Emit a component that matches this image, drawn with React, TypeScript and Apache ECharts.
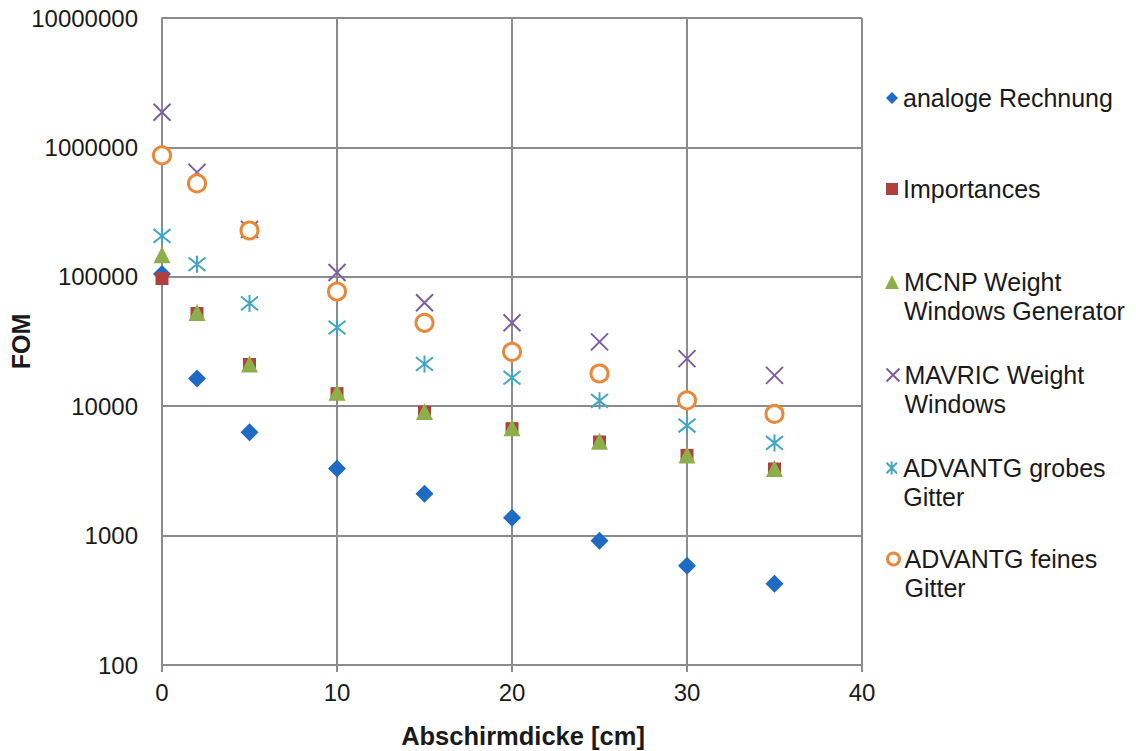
import React, { useEffect, useRef } from "react";
import * as echarts from "echarts";

const xValues = [0, 2, 5, 10, 15, 20, 25, 30, 35];
const analog = [105000, 16400, 6300, 3300, 2110, 1375, 912, 585, 425];
const importances = [97000, 52000, 21000, 12500, 8980, 6710, 5290, 4170, 3270];
const mcnp = [148000, 53000, 21200, 12800, 9100, 6800, 5350, 4200, 3300];
const mavric = [1870000, 641000, 232000, 108000, 63000, 44100, 31400, 23300, 17300];
const grob = [207000, 125000, 62300, 40600, 21200, 16600, 11000, 7080, 5200];
const fein = [867000, 527000, 228000, 76900, 44100, 26300, 17900, 11100, 8710];
const yTicks = [100, 1000, 10000, 100000, 1000000, 10000000];

const names = [
  "analoge Rechnung",
  "Importances",
  "MCNP Weight\nWindows Generator",
  "MAVRIC Weight\nWindows",
  "ADVANTG grobes\nGitter",
  "ADVANTG feines\nGitter",
];

const X_PATH = "path://M0,0L10,10M10,0L0,10";
const STAR_PATH = "path://M5,0L5,10M1,1L9,9M9,1L1,9";

const pair = (ys: number[]) => xValues.map((x, i) => [x, ys[i]]);

export default function App() {
  const ref = useRef<HTMLDivElement>(null);
  useEffect(() => {
    document.body.style.margin = "0";
    const chart = echarts.init(ref.current!, null, { renderer: "svg" });
    const font = "'Liberation Sans', Arial, sans-serif";
    const gridColor = "#8c8c8c";
    const blue = "#1F6BC4";
    const red = "#B0403D";
    const green = "#8DAF4A";
    const purple = "#7B5FA0";
    const teal = "#42A6C2";
    const orange = "#E8883A";
    const firstLineCenters = [98, 189, 282, 375, 468, 559];
    const twoLine = [false, false, true, true, true, true];
    const legendIcons = ["diamond", "rect", "triangle", X_PATH, STAR_PATH, "circle"];
    const legendStyles: any[] = [
      { color: blue, opacity: 1 },
      { color: red, opacity: 1 },
      { color: green, opacity: 1 },
      { color: "transparent", borderColor: purple, borderWidth: 2, opacity: 1 },
      { color: "transparent", borderColor: teal, borderWidth: 2, opacity: 1 },
      { color: "#ffffff", borderColor: orange, borderWidth: 3, opacity: 1 },
    ];
    const legendSizes = [
      [12, 12],
      [12, 12],
      [14, 14],
      [13, 13],
      [13, 13],
      [12, 12],
    ];
    const legends = names.map((n, i) => ({
      data: [{ name: n, icon: legendIcons[i], itemStyle: legendStyles[i] }],
      left: 886 + (12 - legendSizes[i][0]) / 2,
      top: firstLineCenters[i] - (twoLine[i] ? 43.5 : 14.5),
      padding: 0,
      itemWidth: legendSizes[i][0],
      itemHeight: legendSizes[i][1],
      selectedMode: false,
      formatter: twoLine[i] ? (s: string) => " \n" + s : (s: string) => s,
      textStyle: {
        fontFamily: font,
        fontSize: 25,
        lineHeight: 29,
        color: "#1a1a1a",
      },
    }));

    chart.setOption({
      animation: false,
      backgroundColor: "#ffffff",
      textStyle: { fontFamily: font },
      grid: {
        left: 162,
        top: 18,
        width: 700,
        height: 647,
        containLabel: false,
        outerBoundsMode: "none",
      },
      legend: legends,
      xAxis: {
        type: "value",
        min: 0,
        max: 40,
        interval: 10,
        name: "Abschirmdicke [cm]",
        nameLocation: "middle",
        nameGap: 58,
        nameTextStyle: {
          fontFamily: font,
          fontSize: 25.5,
          fontWeight: "bold",
          color: "#1a1a1a",
          padding: [0, 0, 0, 22],
        },
        axisLine: { show: true, lineStyle: { color: gridColor, width: 2 } },
        axisTick: { show: true, length: 7, lineStyle: { color: gridColor, width: 2 } },
        axisLabel: { fontFamily: font, fontSize: 24, color: "#1a1a1a", margin: 15 },
        splitLine: { show: true, lineStyle: { color: gridColor, width: 2 } },
      },
      yAxis: {
        type: "log",
        logBase: 10,
        min: yTicks[0],
        max: yTicks[yTicks.length - 1],
        name: "FOM",
        nameLocation: "middle",
        nameGap: 129,
        nameMoveOverlap: false,
        nameTextStyle: { fontFamily: font, fontSize: 25, fontWeight: "bold", color: "#1a1a1a" },
        axisLine: { show: true, lineStyle: { color: gridColor, width: 2 } },
        axisTick: { show: false },
        axisLabel: {
          fontFamily: font,
          fontSize: 24,
          color: "#1a1a1a",
          margin: 24,
          formatter: (v: number) => String(Math.round(v)),
        },
        splitLine: { show: true, lineStyle: { color: gridColor, width: 2 } },
      },
      series: [
        {
          name: names[0],
          type: "scatter",
          data: pair(analog),
          symbol: "diamond",
          symbolSize: 18,
          itemStyle: { color: blue, opacity: 1 },
        },
        {
          name: names[1],
          type: "scatter",
          data: pair(importances),
          symbol: "rect",
          symbolSize: 13,
          itemStyle: { color: red, opacity: 1 },
        },
        {
          name: names[2],
          type: "scatter",
          data: pair(mcnp),
          symbol: "triangle",
          symbolSize: 17,
          itemStyle: { color: green, opacity: 1 },
        },
        {
          name: names[3],
          type: "scatter",
          data: pair(mavric),
          symbol: X_PATH,
          symbolSize: 17,
          itemStyle: { color: "transparent", borderColor: purple, borderWidth: 2, opacity: 1 },
        },
        {
          name: names[4],
          type: "scatter",
          data: pair(grob),
          symbol: STAR_PATH,
          symbolSize: 17,
          itemStyle: { color: "transparent", borderColor: teal, borderWidth: 2, opacity: 1 },
        },
        {
          name: names[5],
          type: "scatter",
          data: pair(fein),
          symbol: "circle",
          symbolSize: 17,
          itemStyle: { color: "#ffffff", borderColor: orange, borderWidth: 3, opacity: 1 },
        },
      ],
    });
    return () => chart.dispose();
  }, []);
  return <div ref={ref} style={{ width: 1136, height: 751 }} />;
}
